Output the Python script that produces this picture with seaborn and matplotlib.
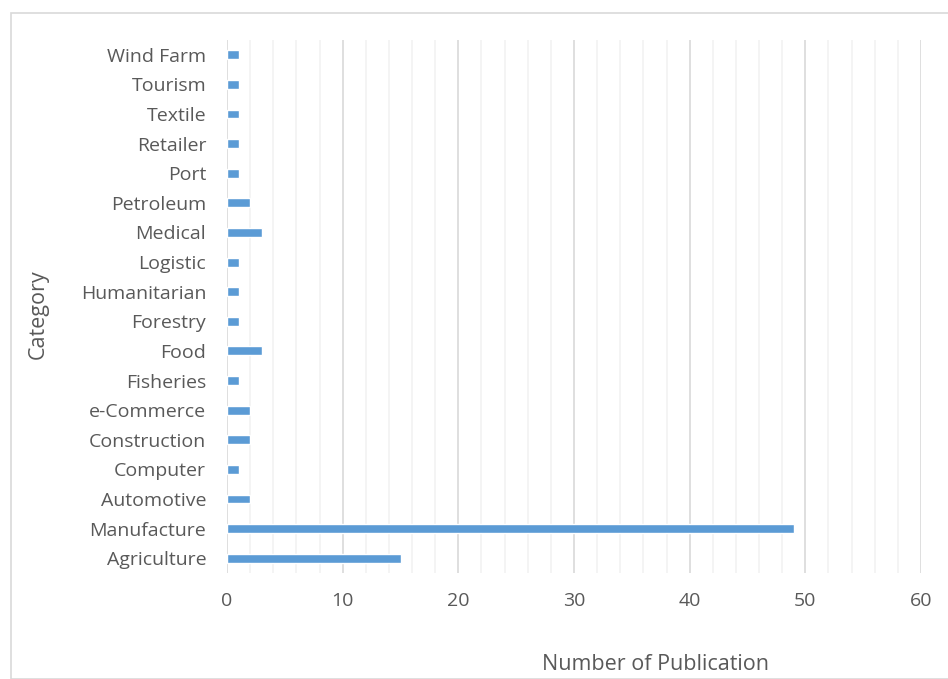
import numpy as np
import pandas as pd
import matplotlib.pyplot as plt
import matplotlib.patches as mpatches
import seaborn as sns

# categories listed top to bottom as shown
CATEGORIES = ['Wind Farm', 'Tourism', 'Textile', 'Retailer', 'Port', 'Petroleum',
              'Medical', 'Logistic', 'Humanitarian', 'Forestry', 'Food', 'Fisheries',
              'e-Commerce', 'Construction', 'Computer', 'Automotive', 'Manufacture',
              'Agriculture']
COUNTS = [1, 1, 1, 1, 1, 2, 3, 1, 1, 1, 3, 1, 2, 2, 1, 2, 49, 15]
XTICKS = [0, 10, 20, 30, 40, 50, 60]

df = pd.DataFrame({'Category': CATEGORIES, 'Count': COUNTS})

sns.set_theme(style='white')
plt.rcParams['font.family'] = ['Open Sans', 'DejaVu Sans']
TXT = '#595959'

fig = plt.figure(figsize=(9.48, 6.79), dpi=100)
ax = fig.add_axes([227 / 948, 1 - 573 / 679, 694 / 948, 533 / 679])

# outer chart border
fig.patches.append(mpatches.Rectangle((11 / 948, 0), 1, 1 - 13 / 679,
                                      transform=fig.transFigure, fill=False,
                                      edgecolor='#d9d9d9', linewidth=1.2, zorder=0))

sns.barplot(data=df, x='Count', y='Category', order=CATEGORIES, orient='h',
            color='#5b9bd5', saturation=1, width=0.3, ax=ax, zorder=3)

ax.set_xlim(0, 60)
ax.set_xticks(XTICKS)
ax.set_xticks(np.arange(0, 61, 2), minor=True)
ax.grid(axis='x', which='minor', color='#f2f2f2', linewidth=1.2, zorder=0)
ax.grid(axis='x', which='major', color='#d9d9d9', linewidth=1.2, zorder=1)
ax.set_axisbelow(True)
for s in ax.spines.values():
    s.set_visible(False)
ax.tick_params(axis='both', which='both', length=0, colors=TXT, labelsize=14)
ax.tick_params(axis='x', pad=14)
ax.tick_params(axis='y', pad=15)
ax.set_xlabel('')
ax.set_ylabel('')

fig.text(655 / 948, 1 - 665 / 679, 'Number of Publication', ha='center', va='center',
         fontsize=15.5, color=TXT)
fig.text(38 / 948, 1 - 314 / 679, 'Category', ha='center', va='center',
         rotation=90, fontsize=15.5, color=TXT)

plt.savefig('out.png', dpi=100)
plt.close()
